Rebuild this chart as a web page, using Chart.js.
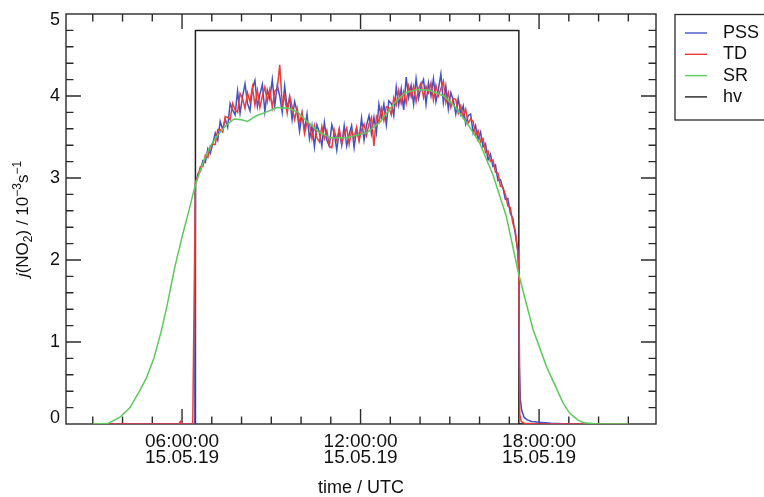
<!DOCTYPE html>
<html lang="en">
<head>
    <meta charset="UTF-8">
    <title>j(NO2) 15.05.19</title>
    <script src="https://cdn.jsdelivr.net/npm/chart.js"></script>
    <style>
        html, body { margin: 0; padding: 0; background: #fff; }
        #jChart { display: block; }
    </style>
</head>
<body>

    <canvas id="jChart" width="764" height="497"></canvas>

    <script>
        // ---- axis ranges and labels (hours UTC) ----
        const xMin = 2.1;
        const xMax = 21.93;
        const labelHours = [6, 12, 18];
        const labelTexts = [["06:00:00", "15.05.19"], ["12:00:00", "15.05.19"], ["18:00:00", "15.05.19"]];
        const hourTicks = [3, 4, 5, 6, 7, 8, 9, 10, 11, 12, 13, 14, 15, 16, 17, 18, 19, 20, 21];
        const yTicks = [0, 1, 2, 3, 4, 5];

        // ---- PSS / TD: 5 min samples from 06:27 ----
        const dayStart = 6.45;
        const dayStep = 5 / 60;

        const pssDay = [
            2.92, 3.05, 3.08, 3.21, 3.19, 3.36, 3.30, 3.42, 3.55, 3.46, 3.69, 3.59,
            3.72, 3.62, 3.91, 3.83, 3.77, 4.06, 3.79, 3.99, 4.15, 3.91, 3.82, 4.09,
            4.19, 3.87, 4.02, 4.14, 3.81, 4.07, 3.96, 4.20, 3.88, 4.13, 4.00, 3.80,
            4.12, 3.85, 3.98, 3.71, 3.93, 3.81, 3.57, 3.79, 3.58, 3.78, 3.48, 3.64,
            3.38, 3.65, 3.56, 3.39, 3.68, 3.46, 3.39, 3.65, 3.54, 3.34, 3.58, 3.40,
            3.64, 3.39, 3.53, 3.64, 3.37, 3.60, 3.47, 3.73, 3.46, 3.64, 3.76, 3.54,
            3.74, 3.55, 3.90, 3.73, 3.90, 3.65, 3.94, 3.91, 3.76, 4.11, 3.89, 4.09,
            3.83, 4.23, 3.98, 4.13, 3.90, 4.21, 3.97, 4.12, 4.20, 3.90, 4.16, 4.00,
            4.21, 3.93, 4.08, 4.27, 3.92, 4.12, 3.84, 4.04, 3.95, 3.78, 3.97, 3.78,
            3.88, 3.66, 3.76, 3.78, 3.55, 3.64, 3.47, 3.56, 3.38, 3.42, 3.22, 3.29,
            3.14, 3.16, 2.97, 2.98, 2.88, 2.74, 2.75, 2.57, 2.51, 2.32, 2.12
        ];
        const tdDay = [
            2.95, 3.02, 3.14, 3.14, 3.28, 3.25, 3.39, 3.41, 3.41, 3.59, 3.59, 3.56,
            3.75, 3.74, 3.71, 3.91, 3.83, 3.80, 4.03, 3.97, 3.85, 4.04, 3.93, 4.11,
            3.89, 4.07, 3.86, 4.00, 4.11, 3.93, 4.08, 3.86, 4.06, 4.09, 4.38, 3.90,
            4.00, 3.79, 4.00, 3.87, 3.71, 3.85, 3.67, 3.79, 3.54, 3.67, 3.66, 3.48,
            3.64, 3.49, 3.44, 3.63, 3.48, 3.58, 3.39, 3.37, 3.58, 3.46, 3.60, 3.42,
            3.54, 3.61, 3.41, 3.58, 3.49, 3.62, 3.45, 3.59, 3.66, 3.52, 3.66, 3.74,
            3.39, 3.75, 3.68, 3.85, 3.70, 3.87, 3.86, 3.77, 3.98, 3.89, 4.07, 3.91,
            4.05, 3.91, 4.12, 3.99, 4.12, 3.93, 4.09, 4.16, 3.98, 4.12, 4.04, 4.16,
            3.95, 4.13, 4.00, 4.09, 4.18, 3.92, 4.04, 3.86, 3.97, 3.96, 3.79, 3.88,
            3.74, 3.84, 3.67, 3.72, 3.69, 3.52, 3.58, 3.44, 3.48, 3.31, 3.33, 3.20,
            3.22, 3.07, 3.06, 2.90, 2.89, 2.80, 2.66, 2.64, 2.45, 2.36, 2.10
        ];

        // night parts before / after the day block
        const pssPreHours = [3.0, 6.43];
        const pssPre = [0, 0];
        const pssPostHours = [17.32, 17.34, 17.37, 17.42, 17.5, 17.6, 17.75, 18.0, 18.4, 19.0, 21.0];
        const pssPost = [1.86, 0.70, 0.30, 0.16, 0.08, 0.05, 0.03, 0.02, 0.01, 0, 0];

        const tdPreHours = [3.0, 5.9, 5.94, 5.98, 6.36];
        const tdPre = [0, 0, 0.03, 0, 0];
        const tdPostHours = [17.32, 17.35, 17.4, 17.5, 18.0, 21.0];
        const tdPost = [1.84, 0.12, 0.03, 0.01, 0, 0];

        // ---- SR (spectroradiometer) ----
        const srHours = [
            3.0, 3.5, 3.9, 4.25, 4.57, 4.8, 5.05, 5.3, 5.5, 5.75,
            6.0, 6.25, 6.45, 6.7, 6.95, 7.2, 7.5, 7.75, 8.0, 8.2,
            8.5, 8.8, 9.2, 9.6, 9.9, 10.2, 10.6, 11.0, 11.5, 12.2,
            12.65, 13.1, 13.5, 13.9, 14.3, 14.8, 15.2, 15.65, 16.0, 16.45,
            16.9, 17.32, 17.8, 18.25, 18.8, 19.03, 19.3, 19.5, 20.0, 21.0
        ];
        const srValues = [
            0, 0.005, 0.08, 0.2, 0.4, 0.56, 0.8, 1.13, 1.45, 1.9,
            2.28, 2.63, 2.92, 3.18, 3.39, 3.52, 3.65, 3.72, 3.71, 3.69,
            3.76, 3.8, 3.86, 3.85, 3.8, 3.69, 3.56, 3.49, 3.49, 3.55,
            3.68, 3.9, 4.04, 4.08, 4.07, 4.0, 3.86, 3.63, 3.43, 3.04,
            2.53, 1.82, 1.15, 0.7, 0.26, 0.13, 0.05, 0.015, 0, 0
        ];

        // ---- hv (sun flag) ----
        const hvHours = [3.0, 6.45, 6.45, 17.32, 17.32, 21.0];
        const hvValues = [0, 0, 4.8, 4.8, 0, 0];

        const FAM = '"Liberation Sans", Arial, Helvetica, sans-serif';
        const INK = '#2a2a2a';
        const colors = { PSS: '#3f52c8', TD: '#ee3a3a', SR: '#5acb5a', hv: '#222222' };

        function toPoints(hours, values) {
            return hours.map((h, i) => ({ x: h, y: values[i] }));
        }
        function dayPoints(values) {
            return values.map((v, i) => ({ x: dayStart + i * dayStep, y: v }));
        }

        // frame, inward ticks, y labels, legend and axis titles
        const framePlugin = {
            id: 'frame',
            beforeDatasetsDraw(chart) {
                const { ctx, chartArea: a, scales } = chart;
                ctx.save();
                ctx.strokeStyle = INK;
                ctx.lineWidth = 1.4;
                ctx.strokeRect(a.left, a.top, a.right - a.left, a.bottom - a.top);
                ctx.beginPath();
                hourTicks.forEach(h => {
                    const px = scales.x.getPixelForValue(h);
                    const len = h % 6 === 0 ? 15 : 7.5;
                    ctx.moveTo(px, a.bottom); ctx.lineTo(px, a.bottom - len);
                    ctx.moveTo(px, a.top); ctx.lineTo(px, a.top + len);
                });
                for (let k = 1; k < 25; k++) {
                    const py = scales.y.getPixelForValue(k / 5);
                    const len = k % 5 === 0 ? 15 : 7.5;
                    ctx.moveTo(a.left, py); ctx.lineTo(a.left + len, py);
                    ctx.moveTo(a.right, py); ctx.lineTo(a.right - len, py);
                }
                ctx.stroke();

                // y tick labels, end labels pulled inside like the original
                ctx.fillStyle = '#111';
                ctx.font = '18px ' + FAM;
                ctx.textAlign = 'right';
                ctx.textBaseline = 'middle';
                yTicks.forEach(v => {
                    let py = scales.y.getPixelForValue(v);
                    if (v === 0) py -= 6;
                    if (v === 5) py += 6;
                    ctx.fillText(String(v), a.left - 6, py);
                });
                ctx.restore();
            },
            afterDraw(chart) {
                const { ctx, chartArea: a } = chart;
                ctx.save();

                // legend box (runs off the right edge)
                ctx.strokeStyle = INK;
                ctx.lineWidth = 1.3;
                ctx.strokeRect(675, 14.5, 110, 105.5);
                ctx.font = '18px ' + FAM;
                ctx.textBaseline = 'middle';
                ctx.fillStyle = '#111';
                chart.data.datasets.forEach((ds, i) => {
                    const y = 33 + i * 21.3;
                    ctx.strokeStyle = ds.borderColor;
                    ctx.lineWidth = 1.4;
                    ctx.beginPath();
                    ctx.moveTo(685, y); ctx.lineTo(707, y);
                    ctx.stroke();
                    ctx.fillText(ds.label, 723, y);
                });

                // x title
                ctx.textAlign = 'center';
                ctx.fillText('time / UTC', (a.left + a.right) / 2, 488);

                // y title: j(NO2) / 10^-3 s^-1
                const parts = [
                    { t: 'j', f: 'italic 17px ' + FAM, dy: 0 },
                    { t: '(NO', f: '17px ' + FAM, dy: 0 },
                    { t: '2', f: '12px ' + FAM, dy: 4 },
                    { t: ') / 10', f: '17px ' + FAM, dy: 0 },
                    { t: '\u22123', f: '12px ' + FAM, dy: -7 },
                    { t: 's', f: '17px ' + FAM, dy: 0 },
                    { t: '\u22121', f: '12px ' + FAM, dy: -7 }
                ];
                let total = 0;
                parts.forEach(p => { ctx.font = p.f; p.w = ctx.measureText(p.t).width; total += p.w; });
                ctx.translate(28, (a.top + a.bottom) / 2);
                ctx.rotate(-Math.PI / 2);
                ctx.textAlign = 'left';
                ctx.textBaseline = 'alphabetic';
                let x = -total / 2;
                parts.forEach(p => {
                    ctx.font = p.f;
                    ctx.fillText(p.t, x, p.dy);
                    x += p.w;
                });
                ctx.restore();
            }
        };

        const ctx = document.getElementById('jChart').getContext('2d');
        new Chart(ctx, {
            type: 'line',
            data: {
                datasets: [
                    {
                        label: 'PSS',
                        data: [...toPoints(pssPreHours, pssPre), ...dayPoints(pssDay), ...toPoints(pssPostHours, pssPost)],
                        borderColor: colors.PSS,
                        order: 2
                    },
                    {
                        label: 'TD',
                        data: [...toPoints(tdPreHours, tdPre), ...dayPoints(tdDay), ...toPoints(tdPostHours, tdPost)],
                        borderColor: colors.TD,
                        order: 1
                    },
                    {
                        label: 'SR',
                        data: toPoints(srHours, srValues),
                        borderColor: colors.SR,
                        order: 0
                    },
                    {
                        label: 'hv',
                        data: toPoints(hvHours, hvValues),
                        borderColor: colors.hv,
                        order: 3
                    }
                ]
            },
            options: {
                responsive: false,
                animation: false,
                layout: { padding: { left: 0, right: 108, top: 14, bottom: 0 } },
                elements: {
                    point: { radius: 0 },
                    line: { borderWidth: 1.5, tension: 0, fill: false }
                },
                plugins: {
                    legend: { display: false },
                    tooltip: { enabled: false }
                },
                scales: {
                    x: {
                        type: 'linear',
                        min: xMin,
                        max: xMax,
                        grid: { display: false, drawTicks: false },
                        border: { display: false },
                        afterBuildTicks: s => { s.ticks = labelHours.map(v => ({ value: v })); },
                        afterFit: s => { s.height = 73; },
                        ticks: {
                            autoSkip: false,
                            maxRotation: 0,
                            padding: 10,
                            color: '#111',
                            font: { family: FAM, size: 19, lineHeight: 0.82 },
                            callback: v => labelTexts[labelHours.indexOf(v)] || ''
                        }
                    },
                    y: {
                        min: 0,
                        max: 5,
                        grid: { display: false, drawTicks: false },
                        border: { display: false },
                        afterBuildTicks: s => { s.ticks = yTicks.map(v => ({ value: v })); },
                        afterFit: s => { s.width = 66; },
                        ticks: { display: false }
                    }
                }
            },
            plugins: [framePlugin]
        });
    </script>

</body>
</html>
